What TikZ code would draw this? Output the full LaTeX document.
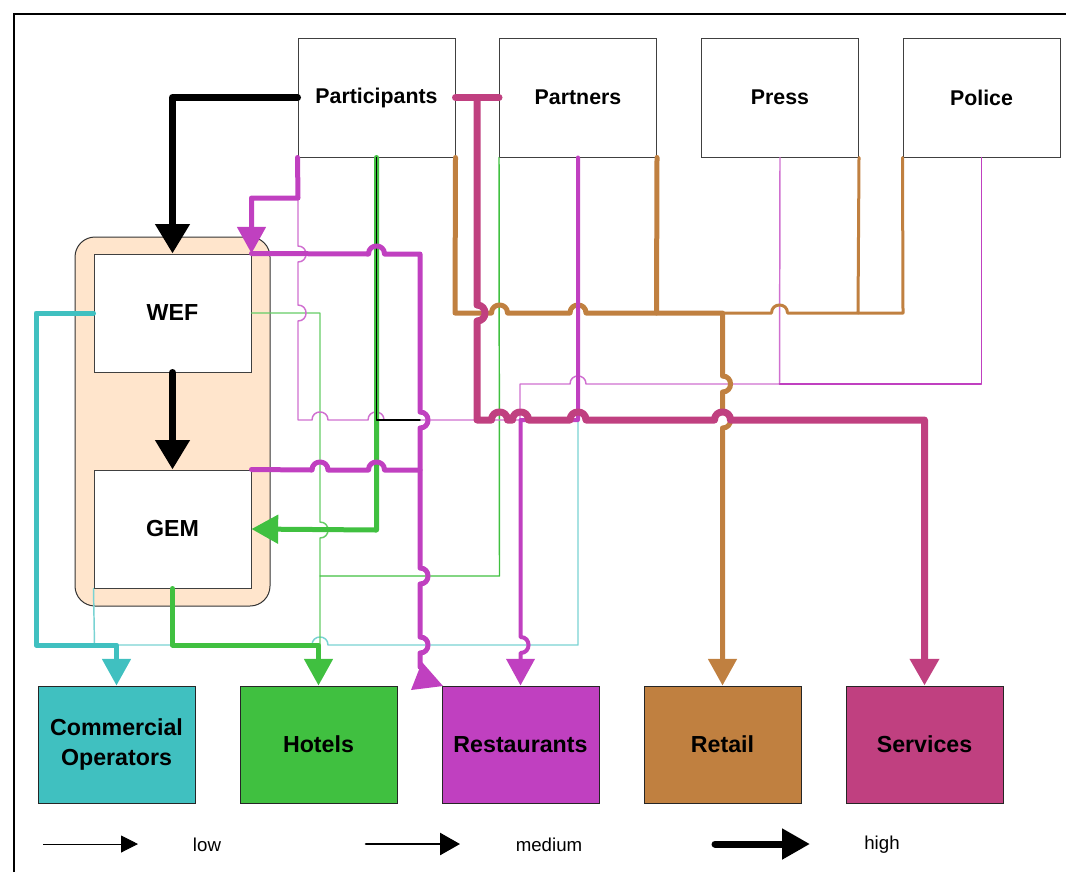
\documentclass[tikz,border=0pt]{standalone}
\usepackage{fontspec}
\setmainfont{Liberation Sans}
\usetikzlibrary{arrows.meta}
\definecolor{cteal}{HTML}{40C0C0}
\definecolor{cgreen}{HTML}{40C040}
\definecolor{cmag}{HTML}{C040C0}
\definecolor{cbrown}{HTML}{C08040}
\definecolor{cpink}{HTML}{C04080}
\definecolor{cpeach}{HTML}{FFE5CC}
\definecolor{cframe}{HTML}{404040}
% hop helpers (image pixel coordinates, y downwards)
\newcommand\hpR[2]{-- ({#1-8},#2) .. controls ({#1-8},{#2-10.7}) and ({#1+8},{#2-10.7}) .. ({#1+8},#2)}
\newcommand\hpL[2]{-- ({#1+8},#2) .. controls ({#1+8},{#2-10.7}) and ({#1-8},{#2-10.7}) .. ({#1-8},#2)}
\newcommand\vpD[2]{-- (#1,{#2-8}) .. controls ({#1+10.7},{#2-8}) and ({#1+10.7},{#2+8}) .. (#1,{#2+8})}
\begin{document}
\begin{tikzpicture}[x=0.75pt,y=-0.75pt,
  topbox/.style={draw=cframe,line width=0.75pt,fill=white,inner sep=0pt,
    minimum width=117.75pt,minimum height=89.25pt,
    font=\fontsize{16}{19}\selectfont\bfseries},
  midbox/.style={draw=cframe,line width=0.75pt,fill=white,inner sep=0pt,
    minimum width=117.75pt,minimum height=88.5pt,
    font=\fontsize{17.4}{21}\selectfont\bfseries},
  botbox/.style={draw=black!85,line width=0.75pt,inner sep=0pt,align=center,
    minimum width=117.75pt,minimum height=87.75pt,
    font=\fontsize{17.4}{22.5}\selectfont\bfseries},
  conn/.style={line join=round,line cap=round},
  low/.style={conn,line width=1.1pt},
  lowb/.style={conn,line width=2.25pt},
  medc/.style={conn,line width=3pt},
  med/.style={conn,line width=3.75pt},
  high/.style={conn,line width=5.25pt},
  tipc/.style={-{Triangle[width=21pt,length=20pt]}},
  tiph/.style={-{Triangle[width=24.75pt,length=22pt]}},
  legtxt/.style={font=\fontsize{14}{16}\selectfont}
]
\useasboundingbox (0,0) rectangle (1066,872);
% frame
\draw[line width=1.5pt] (14,872) -- (14,14) -- (1066,14);

% group and boxes
\node[draw=black!80,line width=0.75pt,fill=cpeach,rounded corners=15pt,inner sep=0pt,
  minimum width=146.25pt,minimum height=276.75pt] (grp) at (172.5,421.5) {};
\node[topbox] (part) at (376.5,97.5) {Participants};
\node[topbox] (partn) at (578,97.5) {Partners};
\node[topbox] (press) at (780,97.5) {Press};
\node[topbox] (police) at (981.5,97.5) {Police};
\node[midbox] (wef) at (172.5,313) {WEF};
\node[midbox] (gem) at (172.5,529) {GEM};
\node[botbox,fill=cteal] (com) at (116.5,744.5) {Commercial\\Operators};
\node[botbox,fill=cgreen] (hot) at (318.5,744.5) {Hotels};
\node[botbox,fill=cmag] (rest) at (520.5,744.5) {Restaurants};
\node[botbox,fill=cbrown] (ret) at (722.5,744.5) {Retail};
\node[botbox,fill=cpink] (serv) at (924.5,744.5) {Services};

% ---- low connectors ----
% teal thin: GEM / Partners -> Commercial Operators
\draw[low,cteal!70] (gem.south west) -- (94.5,645) \hpR{320}{645} -- (578,645) -- (578,420);
% green thin: WEF -> Hotels, Partners -> Hotels
\draw[low,cgreen!80] (wef.east) -- (320,313) \vpD{320}{530} -- (320,645);
\draw[low,cgreen] (partn.south west) -- (499.5,576) -- (320,576);
% magenta thin: Participants, Press, Police -> Restaurants
\draw[low,cmag!75] (298,198) \vpD{298}{254} \vpD{298}{313} -- (298,420)
  \hpR{320}{420} \hpR{376}{420} -- (477,420) -- (520,420);
\draw[low,cmag!75] (press.south) -- (779.5,384) \hpL{578}{384} -- (520,384) -- (520,420);
\draw[low,cmag] (779.5,384) -- (police.south |- 0,384) -- (police.south);

% ---- brown -> Retail ----
\draw[lowb,cbrown] (police.south west) -- (903,313) -- (858,313);
\draw[lowb,cbrown] (press.south east) -- (858,313) \hpL{779.5}{313} -- (722,313);
\draw[med,cbrown] (partn.south east) -- (656.5,313);
\draw[med,cbrown,tipc] (part.south east) -- (455,313) \hpR{499.5}{313} \hpR{578}{313}
  -- (722.5,313) \vpD{722.5}{384} \vpD{722.5}{420} -- (ret.north);

% ---- green thick / medium -> GEM, Hotels ----
\draw[med,cgreen,tipc] (part.south) -- (376.5,530) -- (gem.east);
\draw[low,black] (part.south) -- (376.5,420) -- (420,420);
\draw[med,cgreen,tipc] (gem.south) -- (172.5,645) -- (318.5,645) -- (hot.north);

% ---- magenta -> WEF, Restaurants ----
\draw[med,cmag,tipc] (part.south west) -- (298,198) -- (251.5,198) -- (wef.north east);
\draw[med,cmag] (wef.north east) \hpR{376.5}{254} -- (420,254) \vpD{420}{420}
  \vpD{420}{576} \vpD{420}{645} -- (420,667);
\fill[cmag] (422,662) -- (411,690) -- (443,686) -- cycle;
\draw[med,cmag] (gem.north east) \hpR{320}{470} \hpR{376.5}{470} -- (420,470);
\draw[medc,cmag,tipc] (partn.south) -- (578,420) -- (520.5,420) \vpD{520.5}{645} -- (rest.north);

% ---- pink -> Services ----
\draw[high,cpink] (part.east) -- (partn.west);
\draw[high,cpink,tipc] (477,97.5) \vpD{477}{313} -- (477,420) \hpR{499.5}{420} \hpR{520.5}{420}
  \hpR{578}{420} \hpR{722.5}{420} -- (924.5,420) -- (serv.north);

% ---- teal medium: WEF -> Commercial Operators ----
\draw[med,cteal,tipc] (wef.west) -- (36,313) -- (36,645) -- (116.5,645) -- (com.north);

% ---- black high ----
\draw[high,black,tiph] (part.west) -- (172.5,97.5) -- (wef.north);
\draw[high,black,tiph] (wef.south) -- (gem.north);

% ---- legend ----
\coordinate (la) at (43,844); \coordinate (lb) at (138,844);
\coordinate (ma) at (366,844); \coordinate (mb) at (460,844);
\coordinate (ha) at (715,844); \coordinate (hb) at (810,844);
\draw[line width=0.75pt,-{Triangle[width=12.75pt,length=12.75pt]}] (la) -- (lb);
\draw[line width=2pt,line cap=round,-{Triangle[width=16.5pt,length=15pt]}] (ma) -- (mb);
\draw[line width=5.25pt,line cap=round,-{Triangle[width=22pt,length=21pt]}] (ha) -- (hb);
\node[legtxt] (ltxt) at (207,845) {low};
\node[legtxt] (mtxt) at (549,845) {medium};
\node[legtxt] (htxt) at (882,845) {high};
\end{tikzpicture}
\end{document}
